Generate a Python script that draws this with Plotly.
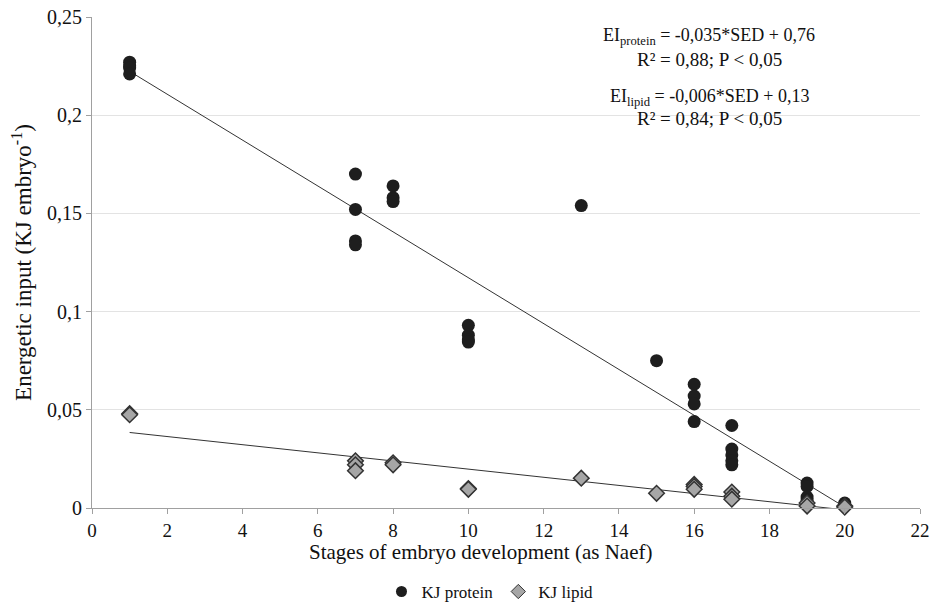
import numpy as np
import plotly.graph_objects as go

# Protein data (stage, KJ)
protein_x = [1, 1, 1, 1, 7, 7, 7, 7, 8, 8, 8, 10, 10, 10, 10, 13, 15, 16, 16, 16, 16,
             17, 17, 17, 17, 17, 19, 19, 19, 19, 20, 20]
protein_y = [0.227, 0.225, 0.224, 0.221, 0.170, 0.152, 0.136, 0.134, 0.164, 0.158, 0.156,
             0.093, 0.088, 0.0855, 0.0845, 0.154, 0.075, 0.063, 0.057, 0.053, 0.044,
             0.042, 0.030, 0.027, 0.024, 0.022, 0.0127, 0.011, 0.0056, 0.004, 0.0025, 0.0015]

# Lipid data
lipid_x = [1, 1, 7, 7, 7, 8, 8, 10, 10, 13, 15, 16, 16, 16, 17, 17, 17, 19, 19, 20, 20]
lipid_y = [0.048, 0.0475, 0.024, 0.022, 0.019, 0.023, 0.022, 0.0099, 0.0095, 0.0152,
           0.0075, 0.012, 0.011, 0.0095, 0.0081, 0.006, 0.0045, 0.0025, 0.001, 0.001, 0.0005]

x_ticks = list(range(0, 23, 2))
y_ticks = [0, 0.05, 0.1, 0.15, 0.2, 0.25]

def fit_line(xs, ys):
    m, b = np.polyfit(xs, ys, 1)
    xx = np.array([min(xs), max(xs)])
    return xx, m * xx + b

fig = go.Figure()

px_, py_ = fit_line(protein_x, protein_y)
lx_, ly_ = fit_line(lipid_x, lipid_y)

fig.add_trace(go.Scatter(x=px_, y=py_, mode="lines", line=dict(color="#333333", width=1),
                         showlegend=False, hoverinfo="skip", cliponaxis=False))
fig.add_trace(go.Scatter(x=lx_, y=ly_, mode="lines", line=dict(color="#333333", width=1),
                         showlegend=False, hoverinfo="skip", cliponaxis=False))

fig.add_trace(go.Scatter(x=protein_x, y=protein_y, mode="markers", name="KJ protein",
                         showlegend=False, cliponaxis=False,
                         marker=dict(symbol="circle", size=13, color="#1e1e1e",
                                     line=dict(width=0))))
fig.add_trace(go.Scatter(x=lipid_x, y=lipid_y, mode="markers", name="KJ lipid",
                         showlegend=False, cliponaxis=False,
                         marker=dict(symbol="diamond", size=12, color="#a6a6a6",
                                     line=dict(width=1.5, color="#333333"))))

# legend entries with small symbols, as in the reference
fig.add_trace(go.Scatter(x=[None], y=[None], mode="markers", name="KJ protein",
                         marker=dict(symbol="circle", size=11, color="#1e1e1e")))
fig.add_trace(go.Scatter(x=[None], y=[None], mode="markers", name="KJ lipid",
                         marker=dict(symbol="diamond", size=11, color="#a6a6a6",
                                     line=dict(width=1, color="#333333"))))

font_family = "Liberation Serif"

annots = [
    ("EI<sub>protein</sub> = -0,035*SED + 0,76", 37, 18),
    ("R² = 0,88; P < 0,05", 59, 19),
    ("EI<sub>lipid</sub> = -0,006*SED + 0,13", 97, 18),
    ("R² = 0,84; P < 0,05", 118, 19),
]
for txt, ypx, fs in annots:
    fig.add_annotation(text=txt, xref="paper", yref="paper",
                       x=(709 - 92) / (920 - 92), y=(508 - ypx) / (508 - 17),
                       showarrow=False, xanchor="center", yanchor="middle",
                       font=dict(family=font_family, size=fs, color="#111111"))

# x-axis title, placed where the reference has it (slightly left of centre)
fig.add_annotation(text="Stages of embryo development (as Naef)", xref="paper", yref="paper",
                   x=(480 - 92) / (920 - 92), y=(508 - 552) / (508 - 17),
                   showarrow=False, xanchor="center", yanchor="middle",
                   font=dict(family=font_family, size=21, color="#111111"))

fig.update_layout(
    width=932, height=607,
    margin=dict(l=92, r=12, t=17, b=99, autoexpand=False),
    plot_bgcolor="white", paper_bgcolor="white",
    separators=",.",
    font=dict(family=font_family, size=18, color="#111111"),
    legend=dict(orientation="h", x=(490 - 92) / 828, xanchor="center", y=-0.171, yanchor="middle",
                font=dict(size=17, family=font_family), itemwidth=30, tracegroupgap=0),
    xaxis=dict(range=[0, 22], tickvals=x_ticks, showgrid=False, zeroline=False,
               showline=True, linecolor="#a0a0a0", linewidth=1,
               ticks="outside", ticklen=5, tickcolor="#a0a0a0",
               tickfont=dict(size=19, family=font_family), automargin=False),
    yaxis=dict(range=[0, 0.25], tickvals=y_ticks, showgrid=True, gridcolor="#e3e3e3",
               zeroline=False, showline=True, linecolor="#a0a0a0", linewidth=1,
               ticks="outside", ticklen=5, tickcolor="#a0a0a0",
               title=dict(text="Energetic input (KJ embryo<sup>-1</sup>)",
                          font=dict(size=23, family=font_family), standoff=8),
               tickfont=dict(size=20, family=font_family), automargin=False),
)

fig.write_html("out.html")
